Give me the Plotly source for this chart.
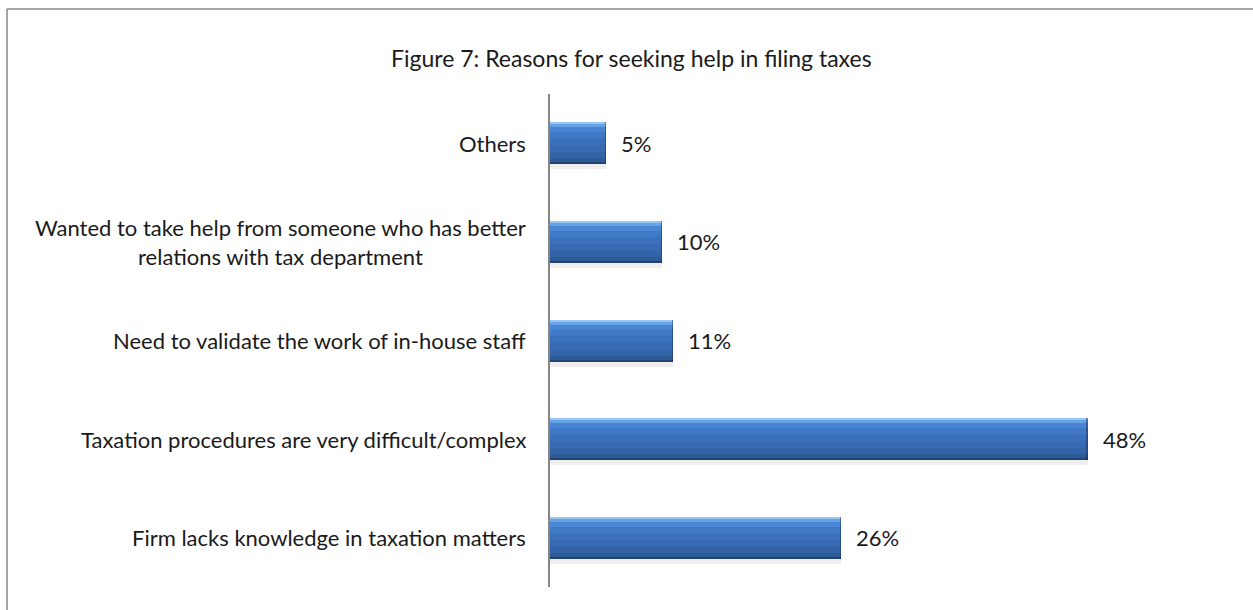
import plotly.graph_objects as go

# Survey responses, listed bottom to top as they appear on the axis
reasons = [
    "Firm lacks knowledge in taxation matters",
    "Taxation procedures are very difficult/complex",
    "Need to validate the work of in-house staff",
    "Wanted to take help from someone who has better<br>relations with tax department",
    "Others",
]
shares = [26, 48, 11, 10, 5]
value_labels = ["26%", "48%", "11%", "10%", "5%"]
title_text = "Figure 7: Reasons for seeking help in filing taxes"

FONT = "Lato"
FSIZE = 22
TEXT_COLOR = "#1a1a1a"
BAR_W = 0.426          # bar thickness in category units
PX = BAR_W / 42.0      # one pixel of bar thickness, in category units

fig = go.Figure()

# Non-overlapping horizontal bands (from px, to px, colour), bottom to top,
# giving each bar a shaded, glossy look
bands = [
    (-5, 0, "#efefef"),   # soft shadow under the bar
    (0, 2, "#22436f"),
    (2, 6, "#2d5b98"),
    (6, 12, "#3464a8"),
    (12, 19, "#376ab3"),
    (19, 26, "#3b71bc"),
    (26, 32, "#4079c6"),
    (32, 37, "#4885d3"),
    (37, 40, "#66a2e6"),
    (40, 42, "#98c6f2"),
]
for lo, hi, col in bands:
    fig.add_trace(go.Bar(
        x=shares, y=reasons, orientation="h",
        width=[(hi - lo) * PX] * len(shares),
        offset=[-BAR_W / 2 + lo * PX] * len(shares),
        marker=dict(color=col, line=dict(width=0)),
        hoverinfo="skip", showlegend=False,
    ))

# Darker bevel at the end of each bar
END = 0.12
fig.add_trace(go.Bar(
    x=[END] * len(shares), base=[v - END for v in shares], y=reasons, orientation="h",
    width=[BAR_W] * len(shares), offset=[-BAR_W / 2] * len(shares),
    marker=dict(color="rgba(20,40,80,0.45)", line=dict(width=0)),
    hoverinfo="skip", showlegend=False,
))

# Category labels: right-aligned block, lines centred inside it
for r in reasons:
    fig.add_annotation(
        x=0, xref="paper", y=r, yref="y", text=r, showarrow=False,
        xanchor="right", yanchor="middle", align="center", xshift=-22,
        font=dict(family=FONT, size=FSIZE, color=TEXT_COLOR),
    )

# Value labels just past the end of each bar
for r, v, lab in zip(reasons, shares, value_labels):
    fig.add_annotation(
        x=v, xref="x", y=r, yref="y", text=lab, showarrow=False,
        xanchor="left", yanchor="middle", xshift=13,
        font=dict(family=FONT, size=FSIZE, color=TEXT_COLOR),
    )

fig.add_annotation(
    x=0.1464, xref="paper", y=1.073, yref="paper", text=title_text,
    showarrow=False, xanchor="center", yanchor="middle",
    font=dict(family=FONT, size=23, color=TEXT_COLOR),
)

# Chart frame (left and top edges)
x_left = (7 - 550) / 560
y_top = (587 - 9) / 493
fig.add_shape(type="line", xref="paper", yref="paper",
              x0=x_left, x1=x_left, y0=y_top, y1=-0.1,
              line=dict(color="#888888", width=1.5))
fig.add_shape(type="line", xref="paper", yref="paper",
              x0=x_left, x1=1.3, y0=y_top, y1=y_top,
              line=dict(color="#888888", width=1.5))

fig.update_layout(
    width=1253, height=610,
    margin=dict(l=550, r=143, t=94, b=23),
    paper_bgcolor="white", plot_bgcolor="white",
    barmode="overlay", bargap=0,
    xaxis=dict(range=[0, 50], visible=False, fixedrange=True),
    yaxis=dict(type="category", categoryorder="array", categoryarray=reasons,
               range=[-0.5, 4.5], showline=True, linecolor="#868686", linewidth=1.5,
               showticklabels=False, ticks="", showgrid=False, zeroline=False),
    font=dict(family=FONT, size=FSIZE),
)

fig.write_html("out.html")
